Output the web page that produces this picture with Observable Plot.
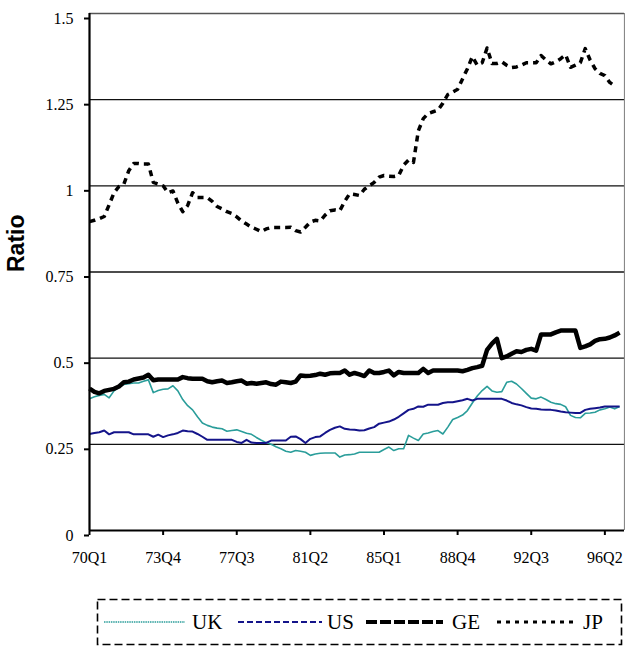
<!DOCTYPE html>
<html>
<head>
<meta charset="utf-8">
<script src="https://cdn.jsdelivr.net/npm/d3@7"></script>
<script src="https://cdn.jsdelivr.net/npm/@observablehq/plot@0.6"></script>
<style>
  html, body { margin: 0; padding: 0; background: white; }
  #wrap { position: relative; width: 625px; height: 646px; overflow: hidden; }
  #wrap svg text { font-family: "Liberation Serif", "Times New Roman", Times, "DejaVu Serif", serif !important; }
  #wrap svg text.sans, #wrap svg g.sans text { font-family: "Liberation Sans", Arial, "DejaVu Sans", sans-serif !important; }
</style>
</head>
<body>
<div id="wrap"></div>
<script>
// Quarterly ratios, index 0 = 70Q1
const UK = [0.382,0.388,0.392,0.395,0.385,0.405,0.415,0.424,0.426,0.428,
0.428,0.433,0.437,0.400,0.406,0.410,0.411,0.420,0.405,0.380,
0.362,0.350,0.330,0.312,0.305,0.300,0.297,0.295,0.288,0.290,
0.292,0.287,0.282,0.279,0.270,0.262,0.255,0.250,0.243,0.237,
0.230,0.227,0.232,0.230,0.227,0.218,0.222,0.224,0.225,0.225,
0.225,0.213,0.219,0.220,0.222,0.227,0.227,0.227,0.227,0.227,
0.235,0.242,0.232,0.237,0.237,0.276,0.268,0.261,0.280,0.283,
0.287,0.290,0.280,0.300,0.322,0.328,0.335,0.348,0.370,0.390,
0.406,0.418,0.405,0.401,0.403,0.430,0.433,0.425,0.412,0.398,
0.384,0.382,0.387,0.380,0.372,0.368,0.366,0.359,0.334,0.328,
0.327,0.340,0.341,0.343,0.350,0.353,0.358,0.353,0.360];

const US = [0.280,0.283,0.285,0.290,0.279,0.285,0.285,0.285,0.285,0.279,
0.279,0.279,0.279,0.272,0.278,0.271,0.276,0.279,0.283,0.290,
0.288,0.287,0.280,0.272,0.263,0.263,0.263,0.263,0.263,0.263,
0.257,0.254,0.263,0.255,0.254,0.254,0.254,0.261,0.261,0.261,
0.261,0.272,0.273,0.265,0.254,0.266,0.271,0.273,0.283,0.292,
0.298,0.302,0.295,0.293,0.292,0.290,0.291,0.296,0.300,0.310,
0.313,0.316,0.322,0.330,0.340,0.350,0.353,0.360,0.359,0.365,
0.365,0.365,0.370,0.372,0.372,0.375,0.378,0.382,0.377,0.382,
0.382,0.382,0.382,0.382,0.382,0.377,0.370,0.366,0.363,0.358,
0.354,0.353,0.351,0.350,0.350,0.348,0.345,0.343,0.342,0.341,
0.341,0.350,0.353,0.355,0.357,0.360,0.360,0.360,0.360];

const GE = [0.412,0.402,0.398,0.405,0.408,0.411,0.418,0.430,0.432,0.438,
0.441,0.444,0.452,0.436,0.438,0.438,0.438,0.438,0.438,0.445,
0.442,0.440,0.440,0.440,0.433,0.430,0.433,0.435,0.428,0.430,
0.433,0.435,0.426,0.428,0.426,0.428,0.430,0.425,0.423,0.432,
0.430,0.428,0.432,0.450,0.448,0.449,0.451,0.455,0.452,0.456,
0.457,0.457,0.464,0.452,0.457,0.453,0.448,0.464,0.457,0.457,
0.460,0.464,0.450,0.460,0.457,0.457,0.457,0.457,0.469,0.457,
0.464,0.464,0.464,0.464,0.464,0.464,0.462,0.466,0.471,0.474,
0.478,0.524,0.542,0.556,0.500,0.505,0.513,0.520,0.518,0.524,
0.527,0.522,0.569,0.569,0.569,0.575,0.580,0.580,0.580,0.580,
0.530,0.534,0.540,0.550,0.555,0.556,0.560,0.566,0.574];

const JP = [0.896,0.900,0.905,0.911,0.945,0.980,0.998,1.005,1.044,1.065,
1.065,1.063,1.063,1.010,1.005,1.000,0.980,0.985,0.950,0.925,
0.943,0.980,0.966,0.966,0.966,0.955,0.940,0.933,0.925,0.920,
0.910,0.898,0.889,0.880,0.874,0.867,0.875,0.879,0.879,0.879,
0.879,0.880,0.870,0.866,0.880,0.895,0.900,0.898,0.915,0.928,
0.930,0.928,0.955,0.977,0.975,0.972,0.990,1.000,1.010,1.025,
1.030,1.028,1.027,1.030,1.060,1.075,1.068,1.160,1.195,1.210,
1.215,1.220,1.240,1.265,1.272,1.280,1.310,1.340,1.375,1.350,
1.357,1.400,1.355,1.355,1.360,1.350,1.343,1.345,1.350,1.357,
1.357,1.357,1.378,1.365,1.354,1.360,1.369,1.380,1.344,1.350,
1.357,1.398,1.365,1.340,1.326,1.320,1.300,1.290];

const seriesNames = ["UK", "US", "GE", "JP"];
const seriesValues = [UK, US, GE, JP];

const xTickIndex = [0, 15, 30, 45, 60, 75, 90, 105];
const xTickLabels = ["70Q1", "73Q4", "77Q3", "81Q2", "85Q1", "88Q4", "92Q3", "96Q2"];
const yTicks = [0, 0.25, 0.5, 0.75, 1, 1.25, 1.5];
const yTickLabels = ["0", "0.25", "0.5", "0.75", "1", "1.25", "1.5"];

// styles
const styles = {
  UK: {stroke: "#2a9d9a", strokeWidth: 1.6},
  US: {stroke: "#14148a", strokeWidth: 2},
  GE: {stroke: "#000", strokeWidth: 4.5},
  JP: {stroke: "#000", strokeWidth: 3.5, strokeDasharray: "6,5"}
};

const rows = [];
seriesNames.forEach((s, k) => seriesValues[k].forEach((v, i) => rows.push({s, i, v})));

const xLab = new Map(xTickIndex.map((d, i) => [d, xTickLabels[i]]));
const yLab = new Map(yTicks.map((d, i) => [d, yTickLabels[i]]));

const chart = Plot.plot({
  width: 625,
  height: 585,
  marginLeft: 89,
  marginRight: 1,
  marginTop: 13,
  marginBottom: 55,
  style: {background: "white", color: "black"},
  x: {domain: [0, 109]},
  y: {domain: [0, 1.5]},
  marks: [
    Plot.ruleY(yTicks.filter(d => d > 0 && d < 1.5), {stroke: "#111", strokeWidth: 1.4}),
    Plot.ruleY([1.5], {stroke: "#555", strokeWidth: 1.4}),
    Plot.ruleX([109], {stroke: "#888", strokeWidth: 1.2}),
    ...seriesNames.map(s => Plot.line(rows.filter(r => r.s === s), {
      x: "i", y: "v", ...styles[s], strokeLinejoin: "round", strokeLinecap: "butt"
    })),
    Plot.ruleY([0], {stroke: "#000", strokeWidth: 2.2}),
    Plot.ruleX([0], {stroke: "#000", strokeWidth: 2.2}),
    Plot.axisY({ticks: yTicks, tickFormat: d => yLab.get(d), tickSize: 5, tickPadding: 11,
      fontSize: 16, dy: 5, strokeWidth: 2, label: null}),
    Plot.axisX({ticks: xTickIndex, tickFormat: d => xLab.get(d), tickSize: 5, tickPadding: 16,
      fontSize: 16, strokeWidth: 2, label: null}),
    Plot.text(["Ratio"], {frameAnchor: "left", rotate: -90, dx: -73, text: d => d,
      fontSize: 23, fontWeight: "bold", fill: "black", className: "sans"})
  ]
});

const wrap = document.getElementById("wrap");
wrap.appendChild(chart);

// Legend (below the chart)
const legendItems = [
  {name: "UK", x0: 104, x1: 185, tx: 192, stroke: "#2a9d9a", width: 1.6, dash: "1.5,0.8"},
  {name: "US", x0: 238, x1: 322, tx: 327, stroke: "#14148a", width: 2, dash: "6,3"},
  {name: "GE", x0: 366, x1: 443, tx: 452, stroke: "#000", width: 4, dash: "11,3"},
  {name: "JP", x0: 497, x1: 578, tx: 583, stroke: "#000", width: 3, dash: "4,5"}
];
const lg = d3.create("svg").attr("width", 625).attr("height", 646)
  .style("position", "absolute").style("left", "0").style("top", "0")
  .style("pointer-events", "none");
lg.append("rect").attr("x", 97.5).attr("y", 599.5).attr("width", 524).attr("height", 45)
  .attr("fill", "none").attr("stroke", "#000").attr("stroke-width", 1.6)
  .attr("stroke-dasharray", "8,4");
for (const it of legendItems) {
  lg.append("line").attr("x1", it.x0).attr("x2", it.x1).attr("y1", 622).attr("y2", 622)
    .attr("stroke", it.stroke).attr("stroke-width", it.width).attr("stroke-dasharray", it.dash);
  lg.append("text").attr("x", it.tx).attr("y", 629).text(it.name)
    .attr("font-size", 21).attr("fill", "#000");
}
wrap.appendChild(lg.node());
</script>
</body>
</html>
